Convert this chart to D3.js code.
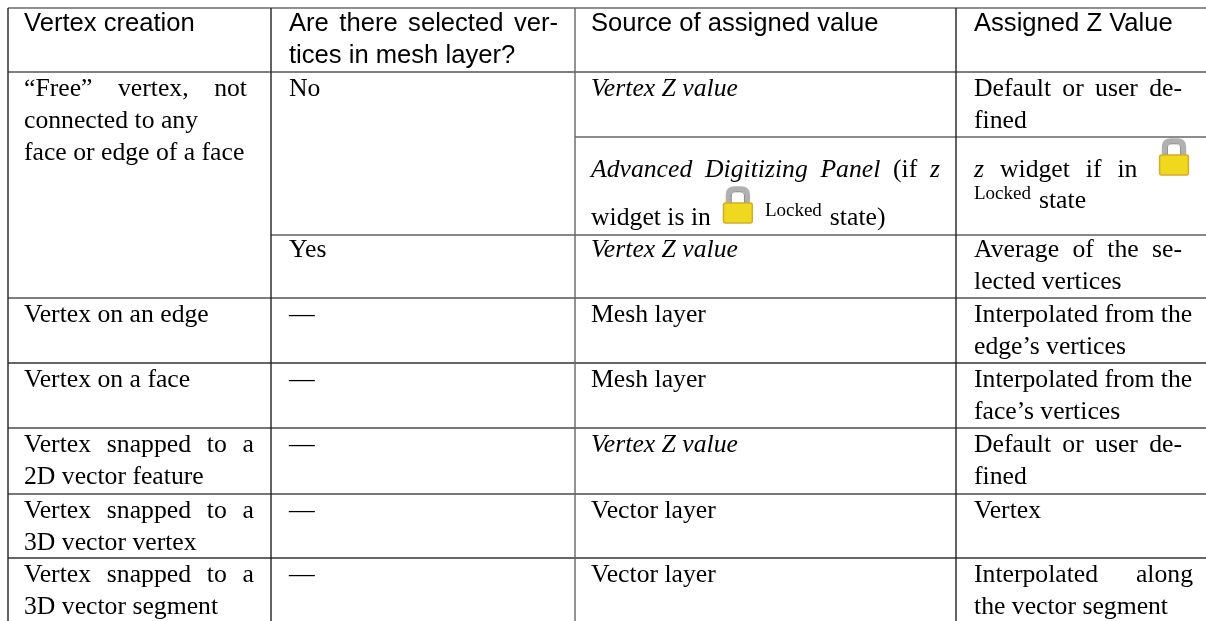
<!DOCTYPE html>
<html>
<head>
<meta charset="utf-8">
<script src="https://cdnjs.cloudflare.com/ajax/libs/d3/7.8.5/d3.min.js"></script>
<style>
  html, body { margin: 0; padding: 0; background: #fff; }
  svg { display: block; }
  text { fill: #000; white-space: pre; }
  .head { font-family: "Liberation Sans", sans-serif; font-size: 25.6px; }
  .body { font-family: "Liberation Serif", serif; font-size: 25.7px; }
  .small { font-size: 19px; }
  #textLayer { filter: blur(0.4px); }
</style>
</head>
<body>
<svg id="chart" width="1206" height="621"></svg>
<script>
// table text, _x_ is italic, ^x^ is the small word, {lock} is the icon
var headers = [
  ["Vertex creation"],
  ["Are there selected ver-", "tices in mesh layer?"],
  ["Source of assigned value"],
  ["Assigned Z Value"]
];
var creation = [
  ["\u201cFree\u201d vertex, not", "connected to any", "face or edge of a face"],
  ["Vertex on an edge"],
  ["Vertex on a face"],
  ["Vertex snapped to a", "2D vector feature"],
  ["Vertex snapped to a", "3D vector vertex"],
  ["Vertex snapped to a", "3D vector segment"]
];
var selected = [["No"], ["Yes"], ["\u2014"], ["\u2014"], ["\u2014"], ["\u2014"], ["\u2014"]];
var source = [
  ["_Vertex Z value_"],
  ["_Advanced Digitizing Panel_ (if _z_", "widget is in {lock} ^Locked^ state)"],
  ["_Vertex Z value_"],
  ["Mesh layer"],
  ["Mesh layer"],
  ["_Vertex Z value_"],
  ["Vector layer"],
  ["Vector layer"]
];
var assigned = [
  ["Default or user de-", "fined"],
  ["_z_ widget if in {lock}", "^Locked^ state"],
  ["Average of the se-", "lected vertices"],
  ["Interpolated from the", "edge\u2019s vertices"],
  ["Interpolated from the", "face\u2019s vertices"],
  ["Default or user de-", "fined"],
  ["Vertex"],
  ["Interpolated along", "the vector segment"]
];

// which table row each cell above starts on
var creationRows = [1, 4, 5, 6, 7, 8];
var selectedRows = [1, 3, 4, 5, 6, 7, 8];
var valueRows = [1, 2, 3, 4, 5, 6, 7, 8];

// layout of the grid
var colX = d3.scaleLinear().domain([0, 1, 2, 3, 4]).range([8, 271, 575, 956, 1206]);
var rowY = d3.scaleLinear().domain([0, 1, 2, 3, 4, 5, 6, 7, 8, 9]).range([8, 72, 137, 235, 298, 363, 428, 494, 558, 621]);
var pad = [16, 18, 16, 18];
var rules = [
  {row: 0, from: 0, color: "#222", w: 1.2},
  {row: 1, from: 0, color: "#555", w: 1.5},
  {row: 2, from: 2, color: "#666", w: 1.5},
  {row: 3, from: 1, color: "#111", w: 1.2},
  {row: 4, from: 0, color: "#555", w: 1.5},
  {row: 5, from: 0, color: "#666", w: 1.8},
  {row: 6, from: 0, color: "#777", w: 2},
  {row: 7, from: 0, color: "#777", w: 2},
  {row: 8, from: 0, color: "#666", w: 2}
];
var colColors = ["#222", "#222", "#666", "#222"];

// right end of the justified lines
var justifyTo = {
  "\u201cFree\u201d vertex, not": 247,
  "Vertex snapped to a": 254,
  "Are there selected ver-": 558,
  "_Advanced Digitizing Panel_ (if _z_": 940,
  "Default or user de-": 1182,
  "Average of the se-": 1182,
  "_z_ widget if in {lock}": 1189,
  "Interpolated along": 1193
};

var svg = d3.select("#chart");
var lineG = svg.append("g");
var textG = svg.append("g").attr("id", "textLayer");

lineG.selectAll(".rule").data(rules).enter().append("line")
  .attr("class", "rule")
  .attr("x1", function(d) { return colX(d.from); })
  .attr("x2", colX(4))
  .attr("y1", function(d) { return rowY(d.row); })
  .attr("y2", function(d) { return rowY(d.row); })
  .attr("stroke", function(d) { return d.color; })
  .attr("stroke-width", function(d) { return d.w; });

lineG.selectAll(".colRule").data(d3.range(4)).enter().append("line")
  .attr("class", "colRule")
  .attr("x1", function(d) { return colX(d); })
  .attr("x2", function(d) { return colX(d); })
  .attr("y1", rowY(0))
  .attr("y2", rowY(9))
  .attr("stroke", function(d) { return colColors[d]; })
  .attr("stroke-width", 1.4);

function firstBaseline(row) {
  if (row == 0) return 23;
  if (row == 2) return 40;
  if (row == 3) return 22;
  return 24;
}

function linePitch(row, col) {
  if (row == 2) return col == 2 ? 48 : 31;
  return 32;
}

function parseLine(str) {
  // splits a line in flow items: plain runs, the icon and the small word
  var items = [];
  str.split(/(\{lock\}|\^[^^]+\^)/).forEach(function(s) {
    var t = s.trim();
    if (!t) return;
    if (t == "{lock}") items.push({kind: "lock"});
    else if (t[0] == "^") items.push({kind: "small", text: t.slice(1, -1)});
    else items.push({kind: "run", text: t});
  });
  return items;
}

function drawLock(g, x, baseline) {
  var lock = g.append("g").attr("transform", "translate(" + x + "," + (baseline - 39) + ")");
  lock.append("path")
    .attr("d", "M5.5,20 V9 Q5.5,3 12,3 H18 Q24.5,3 24.5,9 V20")
    .attr("fill", "none")
    .attr("stroke", "#b0b0b0")
    .attr("stroke-width", 5.4);
  lock.append("path")
    .attr("d", "M8.4,20 V10 Q8.4,5.8 12.5,5.8 H17.5 Q21.6,5.8 21.6,10 V20")
    .attr("fill", "none")
    .attr("stroke", "#8a8a8a")
    .attr("stroke-width", 1);
  lock.append("rect")
    .attr("x", 0.6).attr("y", 17)
    .attr("width", 28.8).attr("height", 20)
    .attr("rx", 2)
    .attr("fill", "#f0d81e")
    .attr("stroke", "#cfae2a")
    .attr("stroke-width", 1.5);
}

function drawLine(cls, str, x, y) {
  var items = parseLine(str);
  var gaps = {lock: 12, small: 12, run: 8};
  var g = textG.append("g").attr("class", cls);

  // first pass lays it out at natural width so the stretch can be worked out
  function layout(spacing) {
    g.selectAll("*").remove();
    var cur = x;
    items.forEach(function(it, i) {
      if (i > 0) cur += (items[i - 1].kind == "small" ? gaps.run : gaps[it.kind == "lock" ? "lock" : "small"]) + spacing;
      if (it.kind == "lock") {
        drawLock(g, cur, y);
        cur += 30;
      } else if (it.kind == "small") {
        var sm = g.append("text").attr("class", "small").attr("x", cur).attr("y", y - 9).text(it.text);
        cur += sm.node().getComputedTextLength();
      } else {
        var t = g.append("text").attr("x", cur).attr("y", y).style("word-spacing", spacing + "px");
        it.text.split("_").forEach(function(part, j) {
          if (part) t.append("tspan").style("font-style", j % 2 ? "italic" : "normal").text(part);
        });
        cur += t.node().getComputedTextLength();
      }
    });
    return cur;
  }

  var end = layout(0);
  if (justifyTo[str]) {
    var spaces = d3.sum(items, function(it) { return it.kind == "run" ? it.text.split(" ").length - 1 : 0; }) + items.length - 1;
    layout((justifyTo[str] - end) / spaces);
  }
}

function drawColumn(col, rows, cells) {
  cells.forEach(function(lines, i) {
    lines.forEach(function(str, j) {
      var row = rows[i];
      drawLine("body", str, colX(col) + pad[col], rowY(row) + firstBaseline(row) + j * linePitch(row, col));
    });
  });
}

headers.forEach(function(lines, col) {
  lines.forEach(function(str, j) {
    drawLine("head", str, colX(col) + pad[col], rowY(0) + firstBaseline(0) + j * linePitch(0, col));
  });
});
drawColumn(0, creationRows, creation);
drawColumn(1, selectedRows, selected);
drawColumn(2, valueRows, source);
drawColumn(3, valueRows, assigned);
</script>
</body>
</html>
